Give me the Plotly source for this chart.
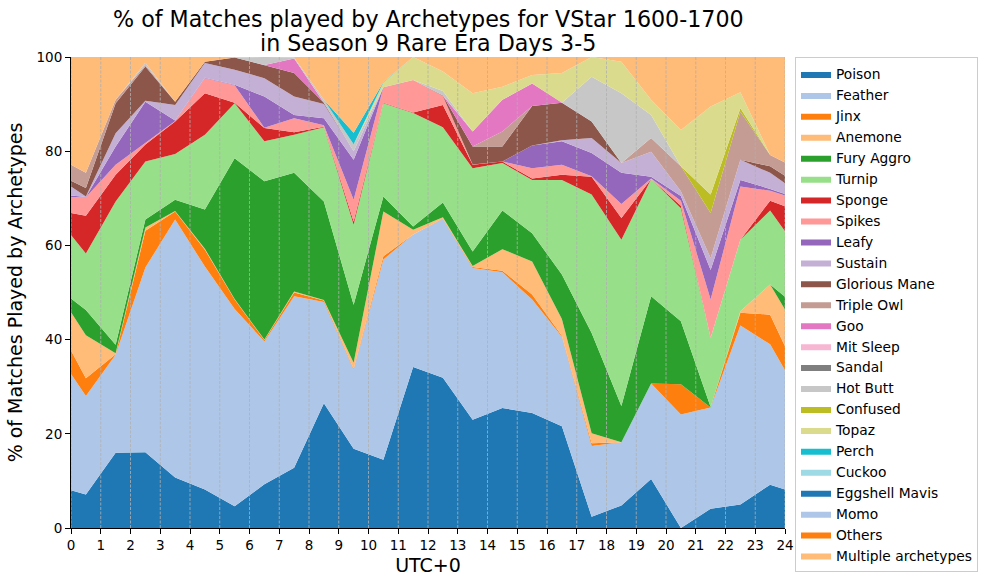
import plotly.graph_objects as go

# x positions (hours, UTC+0)
hours = [0, 0.5, 1.5, 2.5, 3.5, 4.5, 5.5, 6.5, 7.5, 8.5, 9.5, 10.5, 11.5, 12.5,
         13.5, 14.5, 15.5, 16.5, 17.5, 18.5, 19.5, 20.5, 21.5, 22.5, 23.5, 24]

x_ticks = list(range(0, 25))
y_ticks = [0, 20, 40, 60, 80, 100]

title_lines = ["% of Matches played by Archetypes for VStar 1600-1700",
               "in Season 9 Rare Era Days 3-5"]

poison = [8.0, 7.1, 16.0, 16.1, 10.7, 8.2, 4.6, 9.3, 12.8, 26.5, 16.8, 14.5, 34.2, 31.9, 23.0, 25.5, 24.4, 21.6, 2.4, 4.8, 10.4, 0.0, 4.1, 5.0, 9.2, 8.2]
feather = [24.7, 20.9, 20.8, 39.2, 54.8, 47.3, 41.9, 30.3, 36.4, 21.5, 16.8, 42.5, 28.1, 33.7, 32.2, 28.8, 24.1, 19.0, 15.0, 13.4, 20.3, 24.1, 21.5, 38.0, 29.8, 25.3]
jinx = [5.0, 3.8, 0.1, 7.8, 1.7, 3.6, 2.0, 0.3, 0.8, 0.3, 0.2, 0.7, 0.0, 0.1, 0.2, 0.3, 1.1, 0.2, 0.6, 0.0, 0.0, 6.4, 0.0, 2.7, 6.3, 5.1]
anemone = [8.1, 9.1, 0.2, 0.7, 0.1, 0.2, 0.1, 0.1, 0.2, 0.1, 1.3, 9.5, 1.0, 0.3, 0.2, 4.6, 7.0, 3.6, 2.1, 0.0, 0.0, 0.0, 0.0, 0.3, 6.4, 7.8]
fury_aggro = [2.9, 5.4, 1.8, 1.7, 2.4, 8.3, 29.9, 33.6, 25.2, 20.9, 12.3, 3.2, 0.7, 3.1, 3.1, 8.2, 6.0, 9.4, 21.3, 7.7, 18.5, 13.4, 0.1, 0.0, 0.0, 2.7]
turnip = [13.5, 12.0, 30.4, 12.3, 9.7, 15.9, 11.7, 8.5, 8.1, 15.8, 17.0, 19.8, 24.1, 16.0, 17.7, 10.1, 11.3, 20.1, 29.4, 35.3, 24.9, 24.0, 14.7, 15.2, 15.7, 13.9]
sponge = [4.7, 8.0, 5.7, 3.6, 6.9, 8.8, 0.1, 2.8, 0.5, 0.1, 0.7, 0.1, 0.1, 4.7, 0.7, 0.3, 0.3, 1.1, 3.8, 4.6, 0.0, 0.5, 0.0, 0.0, 2.1, 5.3]
spikes = [3.4, 3.9, 2.1, 0.3, 0.1, 3.2, 3.7, 0.1, 3.0, 0.3, 4.6, 3.2, 6.9, 1.9, 0.1, 0.0, 2.2, 2.1, 0.1, 3.0, 0.1, 1.1, 8.1, 11.3, 2.1, 2.3]
leafy = [0.3, 0.1, 3.9, 8.8, 0.1, 0.1, 0.1, 6.6, 0.7, 1.5, 8.5, 0.1, 0.0, 0.0, 0.0, 0.0, 4.8, 5.0, 4.9, 6.6, 0.4, 1.0, 6.3, 1.4, 0.4, 0.3]
sustain = [1.9, 0.1, 2.8, 0.2, 3.3, 3.1, 3.2, 3.9, 3.9, 3.0, 1.8, 0.0, 0.0, 0.0, 0.0, 0.0, 0.0, 0.2, 3.2, 2.1, 5.3, 1.0, 2.5, 4.3, 3.4, 2.3]
glorious_mane = [1.2, 1.8, 6.4, 7.3, 0.7, 0.3, 2.6, 2.8, 5.0, 0.3, 0.0, 0.0, 0.0, 0.1, 3.8, 3.2, 8.4, 8.0, 3.5, 0.0, 0.0, 0.0, 0.0, 0.0, 1.4, 1.6]
triple_owl = [3.4, 3.2, 0.7, 0.3, 0.0, 0.0, 0.0, 0.0, 0.0, 0.0, 0.0, 0.0, 0.0, 0.0, 0.0, 3.2, 0.0, 0.0, 0.0, 0.0, 2.9, 5.3, 9.6, 10.2, 2.4, 2.8]
goo = [0, 0, 0, 0, 0, 0, 0, 0, 3.1, 0, 0, 0, 0, 0, 3.2, 6.7, 4.8, 0, 0, 0, 0, 0, 0, 0, 0, 0]
mit_sleep = [0] * 26
sandal = [0] * 26
hot_butt = [0, 0, 0, 0.5, 0, 0, 0, 1.7, 0.2, 0.6, 1.5, 0, 0, 1.0, 0, 0, 0, 0, 9.5, 14.8, 4.9, 0, 0, 0, 0, 0]
confused = [0, 0, 0, 0, 0, 0, 0, 0, 0, 0, 0, 0, 0, 0, 0, 0, 0, 0, 0, 0, 0, 0, 3.9, 0.7, 0, 0]
topaz = [0, 0, 0, 0, 0, 0, 0, 0, 0, 0, 0, 1.0, 4.9, 4.1, 8.1, 2.8, 1.8, 6.3, 4.2, 6.7, 3.2, 7.7, 18.7, 3.4, 0, 0]
perch = [0, 0, 0, 0, 0, 0, 0, 0, 0, 0, 2.4, 0.1, 0, 0, 0, 0, 0, 0, 0, 0, 0, 0, 0, 0, 0, 0]
cuckoo = [0] * 26
eggshell_mavis = [0] * 26
momo = [0] * 26
others = [0] * 26
multiple = [22.9, 24.6, 9.1, 1.2, 9.5, 1.0, 0.1, 0.0, 0.1, 9.1, 16.1, 5.3, 0.0, 3.1, 7.7, 6.3, 3.8, 3.4, 0.0, 1.0, 9.1, 15.5, 10.5, 7.5, 20.8, 22.4]

series = [
    ("Poison", poison), ("Feather", feather), ("Jinx", jinx), ("Anemone", anemone),
    ("Fury Aggro", fury_aggro), ("Turnip", turnip), ("Sponge", sponge), ("Spikes", spikes),
    ("Leafy", leafy), ("Sustain", sustain), ("Glorious Mane", glorious_mane),
    ("Triple Owl", triple_owl), ("Goo", goo), ("Mit Sleep", mit_sleep), ("Sandal", sandal),
    ("Hot Butt", hot_butt), ("Confused", confused), ("Topaz", topaz), ("Perch", perch),
    ("Cuckoo", cuckoo), ("Eggshell Mavis", eggshell_mavis), ("Momo", momo),
    ("Others", others), ("Multiple archetypes", multiple),
]

tab20 = ["#1f77b4", "#aec7e8", "#ff7f0e", "#ffbb78", "#2ca02c", "#98df8a", "#d62728",
         "#ff9896", "#9467bd", "#c5b0d5", "#8c564b", "#c49c94", "#e377c2", "#f7b6d2",
         "#7f7f7f", "#c7c7c7", "#bcbd22", "#dbdb8d", "#17becf", "#9edae5"]

FONT = "DejaVu Sans"

fig = go.Figure()
for i, (name, vals) in enumerate(series):
    c = tab20[i % len(tab20)]
    fig.add_trace(go.Scatter(
        x=hours, y=vals, name=name, mode="lines", stackgroup="one",
        line=dict(width=0, color=c), fillcolor=c,
    ))

# dashed vertical grid drawn above the areas
for t in x_ticks:
    fig.add_shape(type="line", xref="x", yref="paper", x0=t, x1=t, y0=0, y1=1,
                  line=dict(color="#b0b0b0", width=0.8, dash="3px,1.5px"), layer="above")

# two-line title as annotations (centered over the plot area)
for line, ypx in zip(title_lines, [19, 43]):
    fig.add_annotation(text=line, xref="paper", yref="paper", x=0.5, y=(528 - ypx) / 471,
                       xanchor="center", yanchor="middle", showarrow=False,
                       font=dict(family=FONT, size=22.2, color="black"))

fig.update_layout(
    width=989, height=586,
    margin=dict(l=71, r=204, t=57, b=58, autoexpand=False),
    paper_bgcolor="white", plot_bgcolor="white",
    font=dict(family=FONT, size=14, color="black"),
    showlegend=True,
    legend=dict(x=1.014, y=0.999, xanchor="left", yanchor="top", traceorder="normal",
                bgcolor="white", bordercolor="#cccccc", borderwidth=1, maxheight=560,
                font=dict(family=FONT, size=13.8, color="black")),
    hovermode=False,
)
fig.update_xaxes(range=[0, 24], tickvals=x_ticks, ticktext=[str(t) for t in x_ticks],
                 showgrid=False, zeroline=False, showline=True, linecolor="black", linewidth=1,
                 ticks="outside", ticklen=5, tickcolor="black", tickfont=dict(size=13.5),
                 title=dict(text="UTC+0", font=dict(size=19), standoff=6))
fig.update_yaxes(range=[0, 100], tickvals=y_ticks, showgrid=False, zeroline=False,
                 showline=True, linecolor="black", linewidth=1,
                 ticks="outside", ticklen=5, tickcolor="black", tickfont=dict(size=13.5),
                 title=dict(text="% of Matches Played by Archetypes", font=dict(size=19), standoff=8))

fig.write_html("out.html")
